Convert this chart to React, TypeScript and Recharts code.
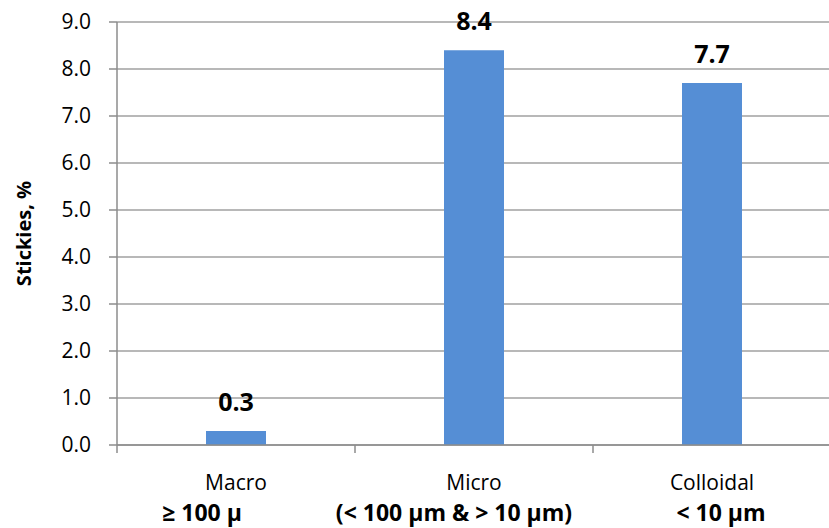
import { BarChart, Bar, XAxis, YAxis, CartesianGrid, LabelList } from 'recharts'

const categorias = ['Macro', 'Micro', 'Colloidal']
const faixas = ['≥ 100 μ', '(< 100 μm & > 10 μm)', '< 10 μm']
const stickies = [0.3, 8.4, 7.7]
const yTicks = [0, 1, 2, 3, 4, 5, 6, 7, 8, 9]

const dados = categorias.map((c, i) => ({ categoria: c, faixa: faixas[i], valor: stickies[i] }))

const FONTE = '"Open Sans", sans-serif'
const COR_EIXO = '#8c8c8c'
// the bold size line sits a bit off-centre in the original
const DESLOCA_FAIXA = [-34, -20, 9]
const MEIA_BANDA = 119

function TickCategoria(props: any) {
  const { x, y, payload, index } = props
  return (
    <g>
      <line x1={x - MEIA_BANDA} y1={y} x2={x - MEIA_BANDA} y2={y + 8} stroke={COR_EIXO} strokeWidth={1.5} />
      <text x={x} y={y + 45} textAnchor="middle" fontFamily={FONTE} fontSize={21} fill="#000">
        {payload.value}
      </text>
      <text
        x={x + DESLOCA_FAIXA[index]}
        y={y + 76}
        textAnchor="middle"
        fontFamily={FONTE}
        fontSize={23}
        fontWeight="bold"
        fill="#000"
      >
        {faixas[index]}
      </text>
    </g>
  )
}

export default function App() {
  return (
    <div style={{ position: 'absolute', left: 0, top: 0, width: 829, height: 528, overflow: 'hidden', background: '#fff' }}>
      <BarChart width={840} height={528} data={dados} margin={{ top: 22, right: 9, bottom: 0, left: 0 }}>
        <CartesianGrid vertical={false} stroke="#a0a0a0" strokeWidth={1.5} />
        <XAxis
          dataKey="categoria"
          axisLine={{ stroke: COR_EIXO, strokeWidth: 1.5 }}
          tickLine={false}
          tickSize={0}
          tickMargin={0}
          height={83}
          interval={0}
          tick={<TickCategoria />}
        />
        <YAxis
          domain={[0, 9]}
          ticks={yTicks}
          width={117}
          axisLine={{ stroke: COR_EIXO, strokeWidth: 1.5 }}
          tickLine={{ stroke: COR_EIXO, strokeWidth: 1.5 }}
          tickSize={8}
          tickMargin={18}
          tickFormatter={(v: number) => v.toFixed(1)}
          tick={{ fontFamily: FONTE, fontSize: 21, fill: '#000' }}
          label={{
            value: 'Stickies, %',
            angle: -90,
            position: 'insideLeft',
            offset: 24,
            style: { fontFamily: FONTE, fontSize: 20, fontWeight: 'bold', fill: '#000', textAnchor: 'middle' },
          }}
        />
        <Bar dataKey="valor" fill="#558ed5" barSize={60} isAnimationActive={false}>
          <LabelList
            dataKey="valor"
            position="top"
            offset={20}
            formatter={(v: any) => Number(v).toFixed(1)}
            style={{ fontFamily: FONTE, fontSize: 25, fontWeight: 'bold', fill: '#000' }}
          />
        </Bar>
      </BarChart>
    </div>
  )
}
